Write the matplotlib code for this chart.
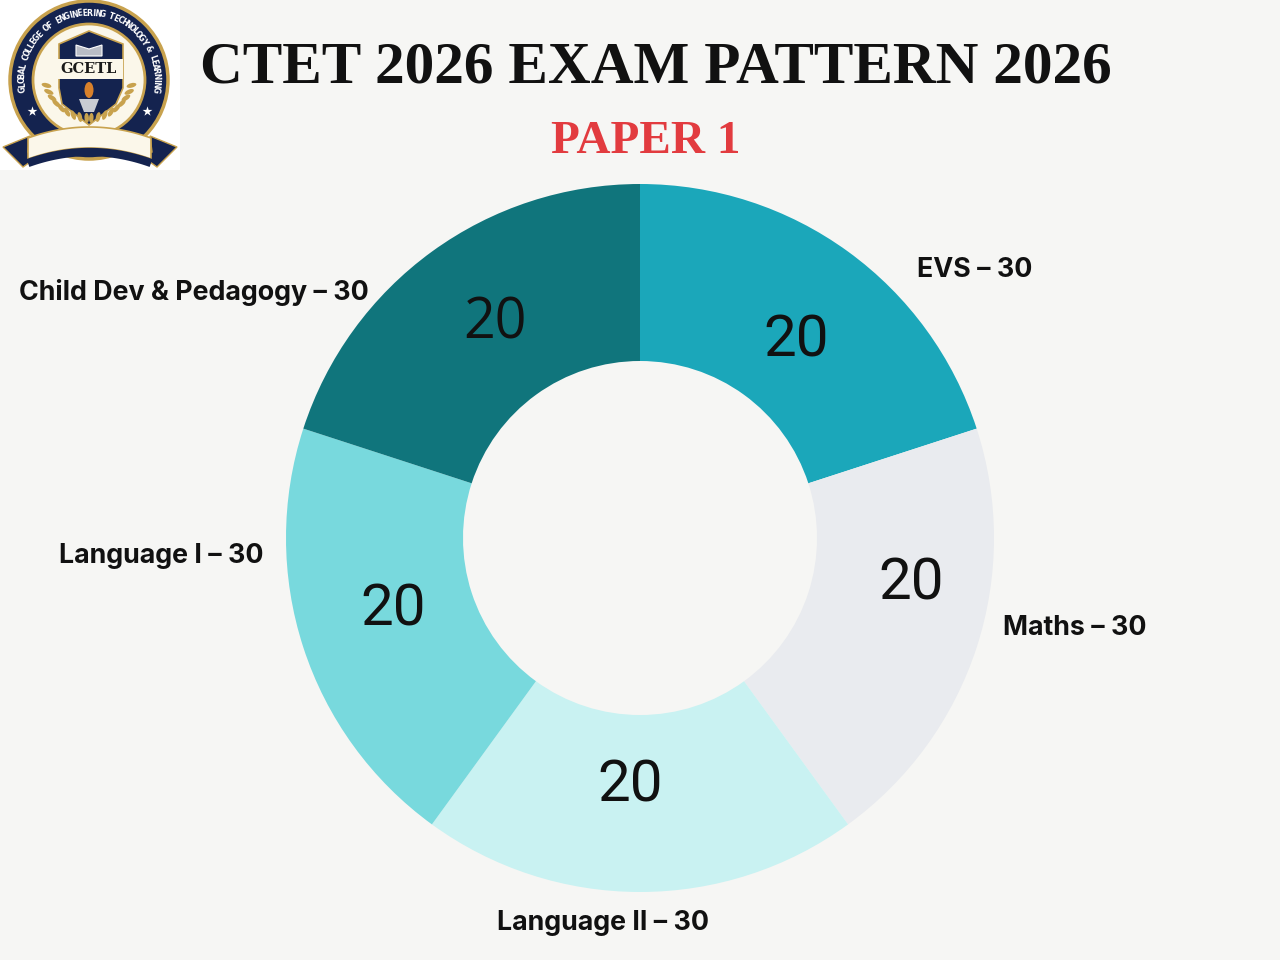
import matplotlib
matplotlib.use("Agg")
import matplotlib.pyplot as plt
import numpy as np
from matplotlib.patches import Circle, Rectangle, Polygon, Ellipse

categories = ["EVS – 30", "Maths – 30", "Language II – 30", "Language I – 30", "Child Dev & Pedagogy – 30"]
values = [20, 20, 20, 20, 20]
colors = ["#1BA7BA", "#E9EBEF", "#C9F2F2", "#78D9DD", "#10757C"]
title = "CTET 2026 EXAM PATTERN 2026"
subtitle = "PAPER 1"
logo_ring = "GLOBAL COLLEGE OF ENGINEERING TECHNOLOGY & LEARNING"
logo_name = "GCETL"

BG = "#F6F6F4"
NAVY = "#14234F"
GOLD = "#C8A24E"
fig = plt.figure(figsize=(12.8, 9.6), dpi=100, facecolor=BG)
ax = fig.add_axes([0, 0, 1, 1])


def Y(y):
    return 960 - y


cx, cy, r = 640, 538, 354
ax.pie(values, colors=colors, startangle=90, counterclock=False,
       center=(cx, Y(cy)), radius=r, frame=True,
       wedgeprops=dict(width=r - 177, linewidth=0))
ax.set_xlim(0, 1280)
ax.set_ylim(0, 960)
ax.set_aspect("equal")
ax.axis("off")

lab_pos = [(975, 267), (1075, 625), (603, 920), (161, 553), (194, 290)]
val_pos = [(796, 335), (911, 578), (630, 780), (393, 604), (495, 317)]
val_font = ["Roboto", "Roboto", "Roboto", "Roboto", "Open Sans"]
val_size = [42, 42, 42, 42, 40]
for c, (x, y) in zip(categories, lab_pos):
    ax.text(x, Y(y), c, ha="center", va="center_baseline", fontsize=19.3, fontweight="bold",
            family="Inter", color="#111111")
for v, (x, y), f, s in zip(values, val_pos, val_font, val_size):
    ax.text(x, Y(y), str(v), ha="center", va="center_baseline", fontsize=s, fontweight="normal",
            family=f, color="#111111")

ax.text(656, Y(62), title, ha="center", va="center_baseline", fontsize=42.7, family="Liberation Serif",
        fontweight="bold", color="#111111")
ax.text(646, Y(137), subtitle, ha="center", va="center_baseline", fontsize=34, family="Liberation Serif",
        fontweight="bold", color="#E23B3F")

# logo
ax.add_patch(Rectangle((0, Y(170)), 180, 170, fc="white", ec="none", zorder=3))
lx, ly = 89, 80
ax.add_patch(Circle((lx, Y(ly)), 79, fc=NAVY, ec=GOLD, lw=2.5, zorder=4))
ax.add_patch(Circle((lx, Y(ly)), 56, fc="#FBF7EA", ec=GOLD, lw=2, zorder=5))
# ring lettering
n = len(logo_ring)
for ch, a in zip(logo_ring, np.linspace(188, -8, n)):
    t = np.radians(a)
    ax.text(lx + 67 * np.cos(t), Y(ly) + 67 * np.sin(t), ch, rotation=a - 90,
            rotation_mode="anchor", ha="center", va="center", fontsize=5.6,
            fontweight="bold", family="DejaVu Sans", color="white", zorder=6)
# shield
ax.add_patch(Polygon([(lx, Y(31)), (123, Y(44)), (123, Y(88)), (116, Y(104)), (lx, Y(125)),
                      (62, Y(104)), (59, Y(88)), (59, Y(44))],
                     fc=NAVY, ec=GOLD, lw=1.2, zorder=6))
ax.add_patch(Polygon([(76, Y(45)), (89, Y(49)), (102, Y(45)), (102, Y(56)), (76, Y(56))],
                     fc="#B9BDC6", ec="white", lw=0.8, zorder=7))
ax.add_patch(Rectangle((56, Y(79)), 67, 20, fc="#FBF7EA", ec="none", zorder=7))
ax.text(89, Y(69), logo_name, ha="center", va="center", fontsize=10.5, fontweight="bold",
        family="DejaVu Serif", color="#1A1A1A", zorder=8)
ax.add_patch(Ellipse((89, Y(90)), 9, 16, fc="#D9812B", ec="none", zorder=8))
ax.add_patch(Polygon([(79, Y(99)), (99, Y(99)), (94, Y(112)), (84, Y(112))],
                     fc="#C9CCD3", ec="none", zorder=8))
# wreath
for sgn in (-1, 1):
    for a in np.radians(np.arange(195, 275, 9)):
        ax.add_patch(Ellipse((lx + sgn * 44 * np.cos(a) * -1, Y(74) + 44 * np.sin(a)), 10, 4.5,
                             angle=sgn * (np.degrees(a) - 180), fc=GOLD, ec="none", zorder=9))
# stars
ax.scatter([32, 147], [Y(111), Y(111)], marker="*", s=55, c="white", zorder=7, linewidths=0)
# banner
ax.add_patch(Polygon([(3, Y(147)), (30, Y(136)), (28, Y(152)), (40, Y(155)), (23, Y(167))],
                     fc=NAVY, ec=GOLD, lw=1, zorder=9))
ax.add_patch(Polygon([(177, Y(147)), (150, Y(136)), (152, Y(152)), (140, Y(155)), (157, Y(167))],
                     fc=NAVY, ec=GOLD, lw=1, zorder=9))
xs = np.linspace(28, 151, 40)
top = 127 + 11 * ((xs - 89.5) / 61.5) ** 2
bot = top + 21
ax.fill(np.r_[xs, xs[::-1]], Y(np.r_[top, bot[::-1]]), fc="#FBF7EA", ec=GOLD, lw=1.2, zorder=10)
ax.plot(xs, Y(bot + 4), color=NAVY, lw=6, zorder=10, solid_capstyle="butt")

fig.savefig("out.png", dpi=100, facecolor=BG)
